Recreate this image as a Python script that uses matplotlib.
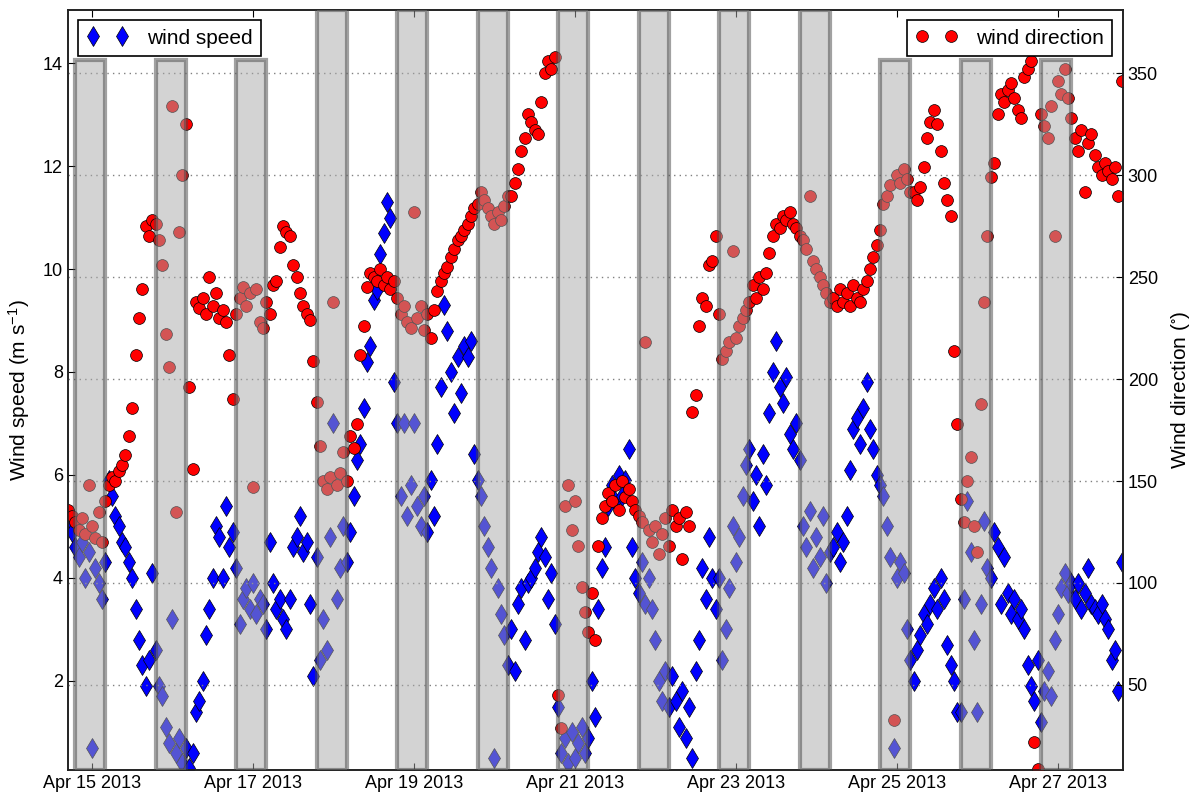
# Wind speed and wind direction, Apr 15-27 2013, night periods shaded

import datetime as dt

import matplotlib
matplotlib.use("Agg")
import matplotlib.pyplot as plt
import matplotlib.dates as mdates
from matplotlib.ticker import MultipleLocator

plt.rcParams['font.family'] = ['Liberation Sans', 'DejaVu Sans']
plt.rcParams['mathtext.default'] = 'regular'

# hourly samples starting Apr 14 2013 17:00
start = dt.datetime(2013, 4, 14, 17)

# wind speed (m/s)
speed = [
    5.1, 4.9, 4.6, 4.4, 4.7, 4.0, 4.5,
    0.7, 4.2, 3.9, 3.6, 4.3, 5.9, 5.6, 5.2, 5.0, 4.7, 4.6, 4.3, 4.0, 3.4, 2.8, 2.3, 1.9, 2.4, 4.1, 2.6, 1.9, 1.7, 1.1, 0.8,
    3.2, 0.6, 0.9, 0.4, 0.7, 0.3, 0.6, 1.4, 1.6, 2.0, 2.9, 3.4, 4.0, 5.0, 4.8, 4.0, 5.4, 4.6, 4.9, 4.2, 3.1, 3.6, 3.8, 3.4,
    3.9, 3.3, 3.6, 3.5, 3.0, 4.7, 3.9, 3.4, 3.6, 3.2, 3.0, 3.6, 4.6, 4.8, 5.2, 4.5, 4.7, 3.5, 2.1, 4.4, 2.4, 3.2, 2.6, 4.8,
    7.0, 3.6, 4.2, 5.0, 4.3, 4.9, 5.6, 6.3, 6.6, 7.3, 8.2, 8.5, 9.4, 9.6, 10.3, 10.7, 11.3, 11.0, 7.8, 7.0, 5.6, 7.0, 5.2, 5.8,
    7.0, 5.4, 5.0, 5.6, 4.9, 5.9, 5.2, 6.6, 7.7, 9.3, 8.8, 8.0, 7.2, 8.3, 7.6, 8.5, 8.3, 8.6, 6.4, 5.9, 5.6, 5.0, 4.6, 4.2,
    0.5, 3.8, 3.3, 2.9, 2.3, 3.0, 2.2, 3.5, 3.8, 2.8, 3.9, 4.0, 4.2, 4.5, 4.8, 4.4, 3.6, 4.1, 3.1, 1.5, 0.6, 0.9, 0.4, 1.0,
    0.5, 0.8, 1.1, 0.6, 0.9, 2.0, 1.3, 3.4, 4.2, 4.6, 5.4, 5.8, 5.5, 6.0, 5.6, 5.9, 6.5, 4.6, 4.0, 3.7, 4.3, 3.5, 4.0, 3.4,
    2.8, 2.0, 1.6, 2.2, 1.5, 2.1, 1.6, 1.1, 1.8, 0.9, 1.5, 0.5, 2.2, 2.8, 4.2, 3.6, 4.8, 4.0, 3.4, 4.0, 2.4, 3.0, 3.8, 5.0,
    4.3, 4.8, 5.6, 6.2, 6.5, 5.5, 6.0, 5.0, 6.4, 5.8, 7.2, 8.0, 8.6, 7.7, 7.4, 7.9, 6.8, 6.5, 7.0, 6.3, 5.0, 4.6, 5.3, 4.2,
    4.8, 4.4, 5.2, 3.9, 4.5, 4.6, 4.9, 4.3, 4.7, 5.2, 6.1, 6.9, 7.1, 6.6, 7.3, 7.8, 6.9, 6.5, 6.0, 5.8, 5.6, 5.0, 4.4, 0.7,
    4.0, 4.3, 4.1, 3.0, 2.4, 2.0, 2.6, 2.9, 3.3, 3.1, 3.5, 3.8, 3.4, 4.0, 3.6, 2.7, 2.3, 2.0, 1.4, 1.4, 3.6, 5.5, 4.5, 2.8,
    1.4, 3.5, 5.1, 4.2, 4.0, 4.9, 4.6, 3.5, 4.4, 3.7, 3.3, 3.6, 3.2, 3.4, 3.0, 2.3, 1.9, 1.6, 2.4, 1.2, 1.8, 2.2, 1.7, 2.8,
    3.3, 3.8, 4.1, 3.7, 3.9, 3.6, 3.9, 3.4, 3.7, 4.2, 3.5, 3.4, 3.3, 3.5, 3.2, 3.0, 2.4, 2.6, 1.8, 4.3,
]

# wind direction (degrees)
direction = [
    136, 133, 130, 126, 132, 124, 148,
    128, 122, 135, 120, 140, 148, 152, 150, 155, 158, 163, 172, 186, 212, 230, 244, 275, 270, 278, 276, 268, 256, 222, 206,
    334, 135, 272, 300, 325, 196, 156, 238, 235, 240, 232, 250, 236, 242, 230, 234, 228, 212, 190, 232, 240, 245, 236, 242,
    147, 244, 228, 225, 238, 232, 246, 248, 265, 275, 272, 270, 256, 250, 242, 236, 232, 229, 209, 189, 167, 150, 146, 152,
    238, 148, 154, 164, 150, 172, 166, 178, 212, 226, 245, 252, 250, 248, 254, 246, 250, 244, 248, 240, 232, 236, 228, 225,
    282, 230, 236, 224, 232, 220, 234, 243, 248, 252, 255, 260, 264, 268, 270, 273, 276, 280, 284, 286, 292, 288, 284, 280,
    276, 282, 278, 285, 290, 290, 296, 303, 312, 318, 330, 326, 322, 320, 336, 350, 356, 352, 358, 45, 29, 138, 148, 126,
    140, 118, 98, 86, 76, 95, 72, 118, 132, 138, 144, 140, 148, 136, 150, 142, 146, 140, 136, 133, 130, 218, 126, 120,
    128, 114, 124, 132, 118, 136, 128, 132, 112, 135, 128, 184, 192, 226, 240, 236, 256, 258, 270, 232, 210, 214, 218, 263,
    220, 226, 230, 234, 238, 246, 240, 250, 244, 252, 262, 270, 276, 274, 280, 278, 282, 276, 274, 270, 268, 264, 290, 258,
    254, 250, 246, 242, 238, 240, 236, 244, 238, 242, 236, 246, 240, 238, 244, 248, 254, 260, 266, 273, 286, 290, 295, 33,
    300, 296, 303, 298, 292, 292, 288, 294, 304, 318, 326, 332, 325, 312, 296, 288, 280, 214, 178, 141, 130, 150, 162, 128,
    115, 188, 238, 270, 299, 306, 330, 340, 336, 342, 345, 338, 332, 328, 348, 352, 356, 22, 9, 330, 324, 318, 334, 270,
    346, 340, 352, 338, 328, 318, 312, 322, 292, 316, 320, 310, 304, 300, 306, 302, 298, 304, 290, 346,
]

times = [start + dt.timedelta(hours=i) for i in range(len(speed))]

# night periods (19:00 - 04:00); short spans stop below the legends
night_start = ["2013-04-14 19:00", "2013-04-15 19:00", "2013-04-16 19:00", "2013-04-17 19:00",
               "2013-04-18 19:00", "2013-04-19 19:00", "2013-04-20 19:00", "2013-04-21 19:00",
               "2013-04-22 19:00", "2013-04-23 19:00", "2013-04-24 19:00", "2013-04-25 19:00",
               "2013-04-26 19:00"]
night_length_h = 9
night_top = [0.934, 0.934, 0.934, 1, 1, 1, 1, 1, 1, 1, 0.934, 0.934, 0.934]

fig, ax1 = plt.subplots(figsize=(11.92, 7.96), dpi=100)
fig.subplots_adjust(left=0.057, right=0.942, top=0.9874, bottom=0.0327)
ax2 = ax1.twinx()

ax1.plot(times, speed, 'd', color='blue', markeredgecolor='black', markeredgewidth=0.5,
         markersize=10, label='wind speed')
ax2.plot(times, direction, 'o', color='red', markeredgecolor='black', markeredgewidth=0.5,
         markersize=8.5, label='wind direction')

for s, top in zip(night_start, night_top):
    t0 = dt.datetime.strptime(s, "%Y-%m-%d %H:%M")
    t1 = t0 + dt.timedelta(hours=night_length_h)
    ax2.axvspan(t0, t1, ymin=0, ymax=top, facecolor='#a8a8a8', edgecolor='#444444',
                alpha=0.5, linewidth=3, zorder=5)

ax1.set_xlim(dt.datetime(2013, 4, 14, 16, 51), dt.datetime(2013, 4, 27, 19, 22))
ax1.set_ylim(0.27, 15.03)
ax2.set_ylim(8.3, 381)

ax1.xaxis.set_major_locator(mdates.DayLocator(bymonthday=[15, 17, 19, 21, 23, 25, 27]))
ax1.xaxis.set_major_formatter(mdates.DateFormatter('%b %d %Y'))
ax1.yaxis.set_major_locator(MultipleLocator(2))
ax2.yaxis.set_major_locator(MultipleLocator(50))

ax2.grid(axis='y', linestyle=(0, (1, 3)), color='gray', linewidth=1)
ax2.set_axisbelow(True)

ax1.tick_params(axis='both', direction='in', length=5, labelsize=13, top=True)
ax2.tick_params(axis='y', direction='in', length=5, labelsize=13)

ax1.set_ylabel('Wind speed (m s$^{-1}$)', fontsize=15, labelpad=8)
ax2.set_ylabel('Wind direction ($^{\\circ}$)', fontsize=15, labelpad=8)

for ax in (ax1, ax2):
    for sp in ax.spines.values():
        sp.set_color('#222222')
        sp.set_linewidth(1.2)

leg1 = ax1.legend(loc='upper left', numpoints=2, fancybox=False, edgecolor='black',
                  framealpha=1, fontsize=15, borderaxespad=0.5, handlelength=2.0,
                  handletextpad=0.9, borderpad=0.4)
leg1.get_frame().set_linewidth(1.2)
leg2 = ax2.legend(loc='upper right', numpoints=2, fancybox=False, edgecolor='black',
                  framealpha=1, fontsize=15, borderaxespad=0.5, handlelength=2.0,
                  handletextpad=0.9, borderpad=0.4)
leg2.get_frame().set_linewidth(1.2)
leg2.set_zorder(10)

fig.savefig('out.png', dpi=100)
